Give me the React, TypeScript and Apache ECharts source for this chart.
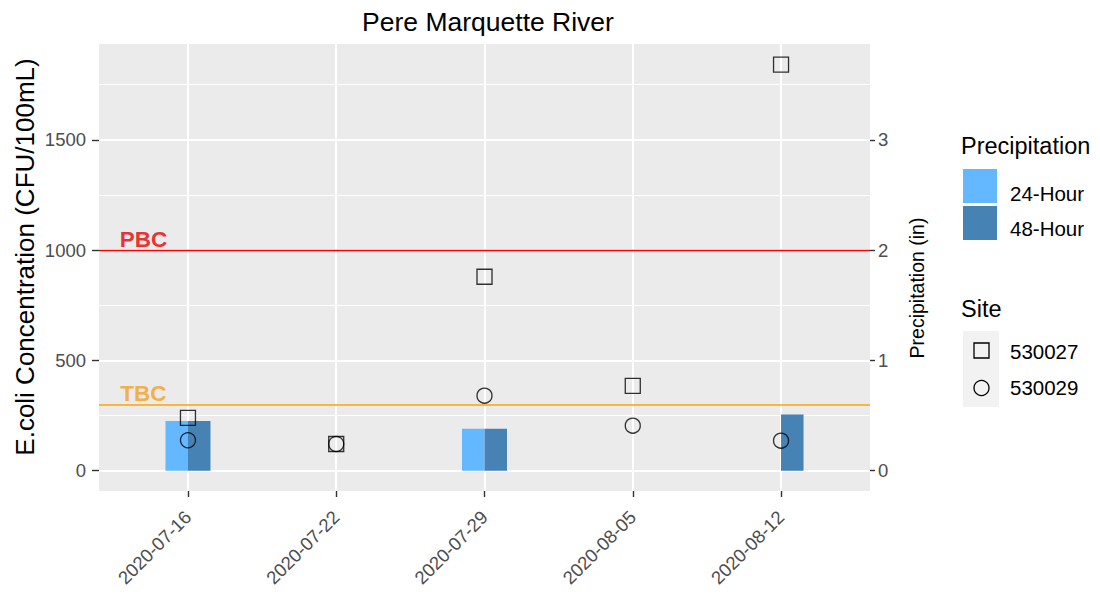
import React, { useEffect, useRef } from 'react';
import * as echarts from 'echarts';

// ---- data ----
const dates = ['2020-07-16', '2020-07-22', '2020-07-29', '2020-08-05', '2020-08-12'];
const site530027 = [239, 121, 879, 384, 1841];
const site530029 = [138, 121, 340, 204, 136];
const precip24h = [0.45, 0, 0.38, 0, 0];
const precip48h = [0.45, 0, 0.38, 0, 0.51];
const leftTicks = [0, 500, 1000, 1500];
const rightTicks = [0, 1, 2, 3];
const xTicks = [0, 1, 2, 3, 4];
const PBC = 1000;
const TBC = 300;
const annotLabels = ['PBC', 'TBC'];
const annotX = [-0.3, -0.3];
const annotY = [1050, 350];

const Y_MIN = -92.1;
const Y_MAX = 1934.1;
const SCALE = 500; // CFU per inch on the secondary axis

const FONT = 'Liberation Sans, Arial, Helvetica, sans-serif';

export default function App() {
  const ref = useRef<HTMLDivElement>(null);

  useEffect(() => {
    if (!ref.current) return;
    const chart = echarts.init(ref.current, undefined, { renderer: 'svg' });

    const legendText = (text: string, x: number, y: number, size: number) => ({
      type: 'text',
      x,
      y,
      style: { text, fill: '#000', fontSize: size, fontFamily: FONT, align: 'left', verticalAlign: 'middle' },
    });

    const option: any = {
      animation: false,
      backgroundColor: '#ffffff',
      textStyle: { fontFamily: FONT },
      grid: {
        left: 99,
        top: 44,
        width: 771,
        height: 447,
        show: true,
        backgroundColor: '#EBEBEB',
        borderWidth: 0,
      },
      xAxis: {
        type: 'value',
        min: -0.6,
        max: 4.6,
        axisLine: { show: false, onZero: false },
        axisTick: {
          show: true,
          length: 6,
          customValues: xTicks,
          lineStyle: { color: '#333333', width: 1.4 },
        },
        axisLabel: {
          customValues: xTicks,
          rotate: 45,
          margin: 23,
          color: '#4D4D4D',
          fontSize: 18.5,
          fontFamily: FONT,
          formatter: (v: number) => dates[Math.round(v)] ?? '',
        },
        splitLine: { show: true, lineStyle: { color: '#FFFFFF', width: 2 } },
      },
      yAxis: [
        {
          type: 'value',
          position: 'left',
          min: Y_MIN,
          max: Y_MAX,
          axisLine: { show: false, onZero: false },
          axisTick: {
            show: true,
            length: 7,
            customValues: leftTicks,
            lineStyle: { color: '#333333', width: 1.4 },
          },
          axisLabel: {
            customValues: leftTicks,
            margin: 13,
            color: '#4D4D4D',
            fontSize: 18.5,
            fontFamily: FONT,
            formatter: (v: number) => String(Math.round(v)),
          },
          splitLine: { show: true, lineStyle: { color: '#FFFFFF', width: 2 } },
          minorTick: { show: false, splitNumber: 2 },
          minorSplitLine: { show: true, lineStyle: { color: '#FFFFFF', width: 1 } },
        },
        {
          type: 'value',
          position: 'right',
          min: Y_MIN / SCALE,
          max: Y_MAX / SCALE,
          axisLine: { show: false, onZero: false },
          axisTick: {
            show: true,
            length: 5,
            customValues: rightTicks,
            lineStyle: { color: '#333333', width: 1.4 },
          },
          axisLabel: {
            customValues: rightTicks,
            margin: 8,
            color: '#4D4D4D',
            fontSize: 18.5,
            fontFamily: FONT,
            formatter: (v: number) => String(Math.round(v)),
          },
          splitLine: { show: false },
        },
      ],
      series: [
        {
          name: '24-Hour',
          type: 'bar',
          yAxisIndex: 1,
          barWidth: 22.5,
          barGap: '0%',
          itemStyle: { color: '#63B8FF' },
          data: precip24h.map((v, i) => [i, v]),
          z: 2,
        },
        {
          name: '48-Hour',
          type: 'bar',
          yAxisIndex: 1,
          barWidth: 22.5,
          barGap: '0%',
          itemStyle: { color: '#4682B4' },
          data: precip48h.map((v, i) => [i, v]),
          z: 2,
        },
        {
          name: 'lines',
          type: 'scatter',
          yAxisIndex: 0,
          data: [],
          silent: true,
          z: 3,
          markLine: {
            silent: true,
            symbol: 'none',
            animation: false,
            label: { show: false },
            data: [
              { yAxis: PBC, lineStyle: { color: '#FF0000', width: 1.3, type: 'solid' } },
              { yAxis: TBC, lineStyle: { color: '#FFA500', width: 1.6, type: 'solid' } },
            ],
          },
        },
        {
          name: '530027',
          type: 'scatter',
          yAxisIndex: 0,
          symbol: 'rect',
          symbolSize: 15,
          itemStyle: { color: 'rgba(0,0,0,0)', borderColor: '#000000', borderWidth: 1.3 },
          data: site530027.map((v, i) => [i, v]),
          z: 4,
        },
        {
          name: '530029',
          type: 'scatter',
          yAxisIndex: 0,
          symbol: 'circle',
          symbolSize: 15,
          itemStyle: { color: 'rgba(0,0,0,0)', borderColor: '#000000', borderWidth: 1.3 },
          data: site530029.map((v, i) => [i, v]),
          z: 4,
        },
        {
          name: 'annotations',
          type: 'scatter',
          yAxisIndex: 0,
          symbolSize: 0,
          silent: true,
          z: 5,
          data: annotLabels.map((t, i) => ({
            value: [annotX[i], annotY[i]],
            label: {
              show: true,
              position: 'inside',
              formatter: t,
              color: i === 0 ? '#E60000' : '#F2A11C',
              fontSize: 22.5,
              fontWeight: 'bold',
              fontFamily: FONT,
            },
          })),
        },
      ],
      graphic: [
        {
          type: 'text',
          x: 488,
          y: 22,
          style: {
            text: 'Pere Marquette River',
            fill: '#000000',
            fontSize: 26.5,
            fontFamily: FONT,
            align: 'center',
            verticalAlign: 'middle',
          },
        },
        {
          type: 'text',
          x: 25,
          y: 257,
          rotation: Math.PI / 2,
          style: {
            text: 'E.coli Concentration (CFU/100mL)',
            fill: '#000000',
            fontSize: 26,
            fontFamily: FONT,
            align: 'center',
            verticalAlign: 'middle',
          },
        },
        {
          type: 'text',
          x: 917,
          y: 288,
          rotation: Math.PI / 2,
          style: {
            text: 'Precipitation (in)',
            fill: '#000000',
            fontSize: 19.5,
            fontFamily: FONT,
            align: 'center',
            verticalAlign: 'middle',
          },
        },
        // Precipitation legend
        legendText('Precipitation', 961, 146, 23.5),
        { type: 'rect', shape: { x: 963, y: 169, width: 34, height: 34 }, style: { fill: '#63B8FF' } },
        { type: 'rect', shape: { x: 963, y: 206, width: 34, height: 34 }, style: { fill: '#4682B4' } },
        legendText('24-Hour', 1010, 193, 20.5),
        legendText('48-Hour', 1010, 228, 20.5),
        // Site legend
        legendText('Site', 961, 309, 23.5),
        { type: 'rect', shape: { x: 963, y: 331, width: 36, height: 76 }, style: { fill: '#F2F2F2' } },
        {
          type: 'rect',
          shape: { x: 974, y: 343, width: 15, height: 15 },
          style: { fill: 'none', stroke: '#000', lineWidth: 1.3 },
        },
        {
          type: 'circle',
          shape: { cx: 981.5, cy: 388, r: 7.5 },
          style: { fill: 'none', stroke: '#000', lineWidth: 1.3 },
        },
        legendText('530027', 1010, 351, 20.5),
        legendText('530029', 1010, 387, 20.5),
      ],
    };

    chart.setOption(option);
    return () => chart.dispose();
  }, []);

  return (
    <div
      ref={ref}
      style={{ position: 'fixed', left: 0, top: 0, width: 1100, height: 597, background: '#fff' }}
    />
  );
}
